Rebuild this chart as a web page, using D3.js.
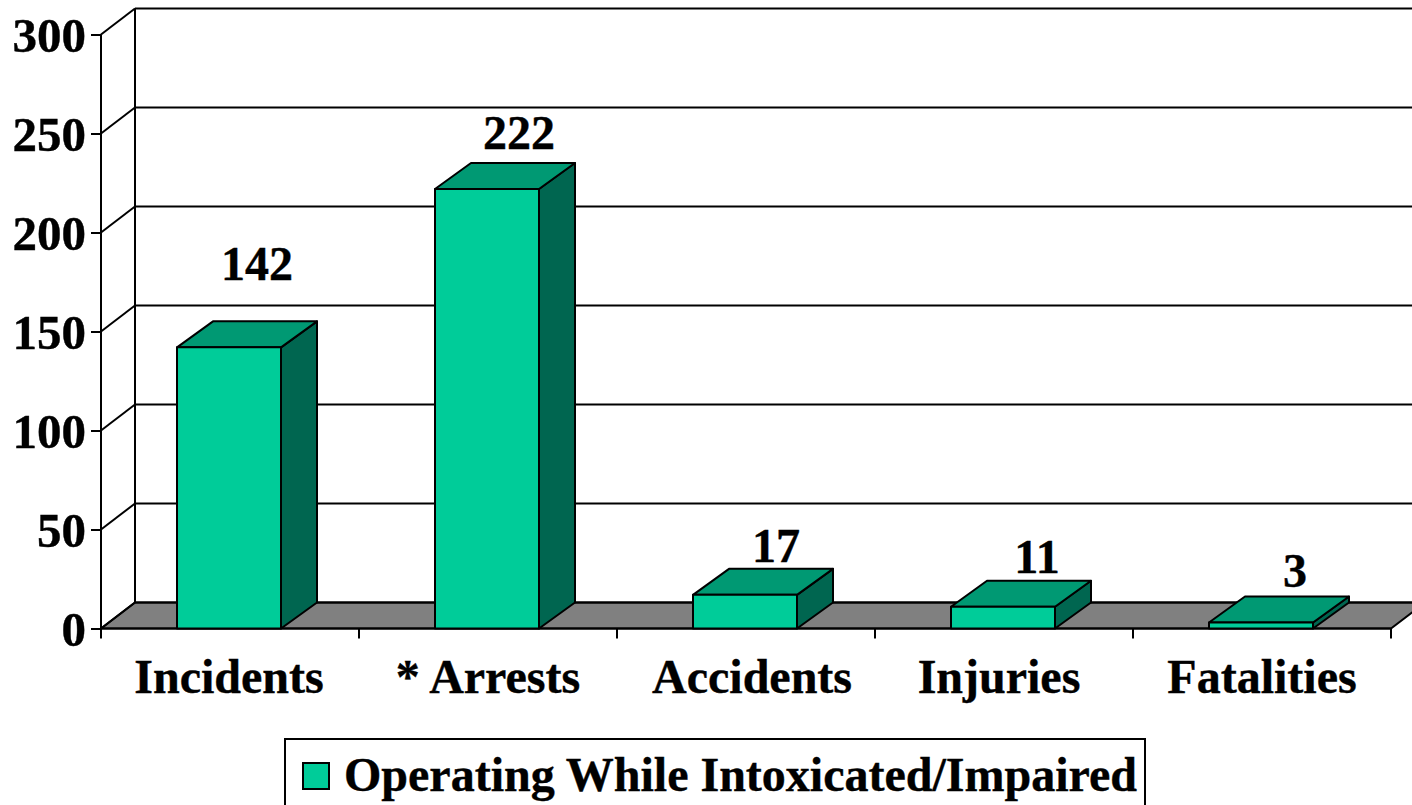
<!DOCTYPE html>
<html>
<head>
<meta charset="utf-8">
<script src="https://cdn.jsdelivr.net/npm/d3@7"></script>
<style>
  html, body { margin: 0; padding: 0; background: #fff; overflow: hidden; }
  text { font-family: "Liberation Serif", serif; font-weight: bold; fill: #000; stroke: #000; stroke-width: 0.4px; }
</style>
</head>
<body>
<div id="chart"></div>
<script>
// data
var categories = ["Incidents", "* Arrests", "Accidents", "Injuries", "Fatalities"];
var values = [142, 222, 17, 11, 3];
var yTicks = [0, 50, 100, 150, 200, 250, 300];
var seriesName = "Operating While Intoxicated/Impaired";

var width = 1412, height = 805;
var x0 = 101, x1 = 1391, y0 = 628.5, y300 = 34.5;
var depthX = 34, depthY = 26; // 3d offset of the back wall
var barDepthX = 36, barDepthY = 26;
var frontColor = "#00CC99", topColor = "#009973", sideColor = "#006650", floorColor = "#808080";

var x = d3.scaleBand().domain(categories).range([x0, x1]);
var y = d3.scaleLinear().domain([0, 300]).range([y0, y300]);

var barWidth = 104, barInset = 76;
// small label nudges, the first label sits higher in the original
var labelLift = [67, 40, 33, 34, 36];
var labelShift = [28, 32, 31, 34, 34];
var catShift = [-1, 0, 6, -5, 0];

var svg = d3.select("#chart").append("svg")
    .attr("width", width)
    .attr("height", height)
    .style("display", "block");

var line2 = function(g, a, b, c, d, w) {
    return g.append("line")
        .attr("x1", a).attr("y1", b).attr("x2", c).attr("y2", d)
        .attr("stroke", "#000").attr("stroke-width", w || 2);
};

// floor
svg.append("polygon")
    .attr("points", [[x0, y0], [x0 + depthX, y0 - depthY], [x1 + depthX, y0 - depthY], [x1, y0]].join(" "))
    .attr("fill", floorColor)
    .attr("stroke", "#000")
    .attr("stroke-width", 2);

// back wall gridlines and the diagonals on the side wall
var walls = svg.append("g");
yTicks.forEach(function(t) {
    line2(walls, x0 + depthX, y(t) - depthY, x1 + depthX, y(t) - depthY, 2);
    line2(walls, x0, y(t), x0 + depthX, y(t) - depthY, 2);
});
line2(walls, x0 + depthX, y(0) - depthY, x0 + depthX, y(300) - depthY, 2);

// y axis
svg.append("g")
    .attr("transform", "translate(" + x0 + ",0)")
    .call(d3.axisLeft(y).tickValues(yTicks).tickSize(10).tickPadding(5).tickFormat(d3.format("d")))
    .call(function(g) {
        g.select(".domain").attr("stroke", "#000").attr("stroke-width", 2).attr("d", "M0," + y0 + "V" + y300);
        g.selectAll(".tick line").attr("stroke", "#000").attr("stroke-width", 2);
        g.selectAll("text").style("font-family", '"Liberation Serif", serif').style("font-weight", "bold")
            .style("font-size", "49px").attr("dy", "0.34em");
    });

// x axis, labels from the band scale, ticks on the band edges
svg.append("g")
    .attr("transform", "translate(0," + y0 + ")")
    .call(d3.axisBottom(x).tickSize(0).tickPadding(30))
    .call(function(g) {
        g.select(".domain").attr("stroke", "#000").attr("stroke-width", 2).attr("d", "M" + x0 + ",0H" + x1);
        g.selectAll("text").style("font-family", '"Liberation Serif", serif').style("font-weight", "bold")
            .style("font-size", "48px")
            .attr("dx", function(d, i) { return catShift[i]; });
    });

var edges = categories.map(function(c) { return x(c); }).concat([x1]);
svg.append("g").selectAll("line")
    .data(edges)
    .enter().append("line")
    .attr("x1", function(d) { return d; })
    .attr("x2", function(d) { return d; })
    .attr("y1", y0)
    .attr("y2", y0 + 10)
    .attr("stroke", "#000")
    .attr("stroke-width", 2);

// bars
var bars = svg.append("g").selectAll("g.bar")
    .data(values)
    .enter().append("g")
    .attr("class", "bar");

function barLeft(i) { return x(categories[i]) + barInset; }

bars.append("polygon") // side
    .attr("points", function(d, i) {
        var r = barLeft(i) + barWidth;
        return [[r, y(d)], [r + barDepthX, y(d) - barDepthY], [r + barDepthX, y0 - barDepthY], [r, y0]].join(" ");
    })
    .attr("fill", sideColor);

bars.append("polygon") // top
    .attr("points", function(d, i) {
        var l = barLeft(i);
        return [[l, y(d)], [l + barDepthX, y(d) - barDepthY], [l + barWidth + barDepthX, y(d) - barDepthY], [l + barWidth, y(d)]].join(" ");
    })
    .attr("fill", topColor);

bars.append("rect") // front
    .attr("x", function(d, i) { return barLeft(i); })
    .attr("y", function(d) { return y(d); })
    .attr("width", barWidth)
    .attr("height", function(d) { return y0 - y(d); })
    .attr("fill", frontColor);

bars.selectAll("polygon, rect")
    .attr("stroke", "#000")
    .attr("stroke-width", 2)
    .attr("stroke-linejoin", "round");

// value labels
svg.append("g").selectAll("text")
    .data(values)
    .enter().append("text")
    .attr("x", function(d, i) { return barLeft(i) + barWidth / 2 + labelShift[i]; })
    .attr("y", function(d, i) { return y(d) - labelLift[i]; })
    .attr("text-anchor", "middle")
    .style("font-size", "48px")
    .text(function(d) { return d; });

// legend
var legend = svg.append("g");
legend.append("rect")
    .attr("x", 285).attr("y", 739)
    .attr("width", 860).attr("height", 80)
    .attr("fill", "#fff").attr("stroke", "#000").attr("stroke-width", 2);
legend.append("rect")
    .attr("x", 303).attr("y", 763)
    .attr("width", 26).attr("height", 26)
    .attr("fill", frontColor).attr("stroke", "#000").attr("stroke-width", 2);
legend.append("text")
    .attr("x", 344).attr("y", 791)
    .style("font-size", "48px")
    .text(seriesName);
</script>
</body>
</html>
